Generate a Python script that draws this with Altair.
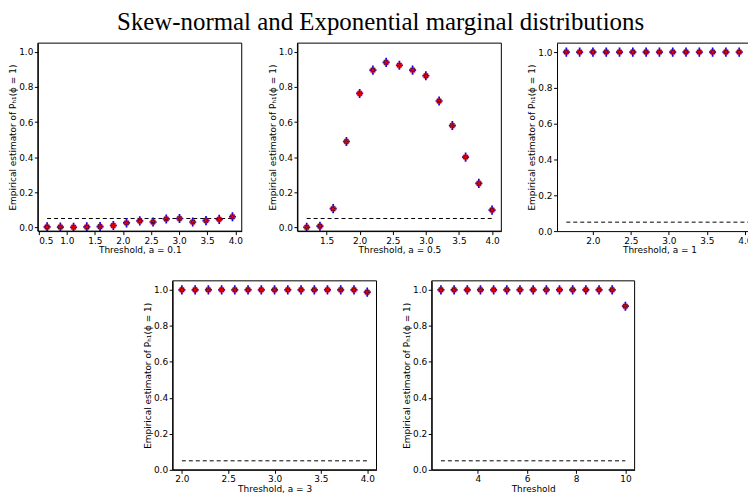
import altair as alt
import pandas as pd

# ---- data ----
x_a01 = [0.65, 0.886, 1.121, 1.357, 1.593, 1.829, 2.064, 2.3, 2.536, 2.771, 3.007, 3.243, 3.479, 3.714, 3.95]
y_a01 = [0.002, 0.001, 0.0, 0.002, 0.004, 0.01, 0.025, 0.036, 0.03, 0.047, 0.05, 0.03, 0.038, 0.045, 0.06]

x_a05 = [1.2, 1.4, 1.6, 1.8, 2.0, 2.2, 2.4, 2.6, 2.8, 3.0, 3.2, 3.4, 3.6, 3.8, 4.0]
y_a05 = [0.0, 0.006, 0.106, 0.489, 0.763, 0.896, 0.94, 0.924, 0.896, 0.864, 0.72, 0.58, 0.40, 0.25, 0.098]

x_a1 = [1.65, 1.825, 2.0, 2.175, 2.35, 2.525, 2.7, 2.875, 3.05, 3.225, 3.4, 3.575, 3.75, 3.925, 4.1]
y_a1 = [1.0] * 14 + [0.835]

x_a3 = [2.0, 2.143, 2.286, 2.429, 2.571, 2.714, 2.857, 3.0, 3.143, 3.286, 3.429, 3.571, 3.714, 3.857, 4.0]
y_a3 = [1.0] * 14 + [0.987]

x_exp = [2.5, 3.036, 3.571, 4.107, 4.643, 5.179, 5.714, 6.25, 6.786, 7.321, 7.857, 8.393, 8.929, 9.464, 10.0]
y_exp = [1.0] * 14 + [0.909]

level = 0.05
y_ticks = [0.0, 0.2, 0.4, 0.6, 0.8, 1.0]
y_title = "Empirical estimator of P\u2095\u2081(\u03d5 = 1)"
main_title = "Skew-normal and Exponential marginal distributions"

plus_path = "M-1,0L1,0M0,-1.3L0,1.3"
x_path = "M-0.8,-0.8L0.8,0.8M-0.8,0.8L0.8,-0.8"


def panel(xs, ys, xdom, ydom, xticks, xfmt, xtitle, w, h, cut=False, title_x=None):
    df = pd.DataFrame({"x": xs, "y": ys})
    axis_kw = dict(values=xticks, format=xfmt, title=xtitle)
    if title_x is not None:
        axis_kw.update(titleX=title_x)
    xenc = alt.X("x:Q", scale=alt.Scale(domain=xdom, nice=False, zero=False),
                 axis=alt.Axis(**axis_kw))
    yenc = alt.Y("y:Q", scale=alt.Scale(domain=ydom, nice=False, zero=False),
                 axis=alt.Axis(values=y_ticks, format=".1f", title=y_title))
    base = alt.Chart(df)
    blue = base.mark_point(shape=plus_path, filled=False, color="blue", size=50,
                           strokeWidth=1.7, opacity=1, clip=cut).encode(x=xenc, y=yenc)
    red = base.mark_point(shape="circle", filled=True, color="red", opacity=0.45,
                          size=45, clip=cut).encode(x=xenc, y=yenc)
    black = base.mark_point(shape=x_path, filled=False, color="black", size=24,
                            strokeWidth=1.5, opacity=1, clip=cut).encode(x=xenc, y=yenc)
    redx = base.mark_point(shape=x_path, filled=False, color="red", size=16,
                           strokeWidth=1.1, opacity=1, clip=cut).encode(x=xenc, y=yenc)
    rdf = pd.DataFrame({"x": [xs[0]], "x2": [xs[-1]], "y": [level]})
    rule = alt.Chart(rdf).mark_rule(strokeDash=[4, 3], color="black", strokeWidth=1,
                                    clip=cut).encode(x=xenc, x2="x2:Q", y=yenc)
    fdf = pd.DataFrame({"f": [0]})
    if cut:
        frame = alt.Chart(fdf).mark_rule(color="black", strokeWidth=1).encode(
            x=alt.value(0), x2=alt.value(w), y=alt.value(0))
    else:
        frame = alt.Chart(fdf).mark_rect(fillOpacity=0, stroke="black", strokeWidth=1).encode(
            x=alt.value(0), x2=alt.value(w), y=alt.value(0), y2=alt.value(h))
    return alt.layer(rule, blue, red, black, redx, frame).properties(width=w, height=h)


p1 = panel(x_a01, y_a01, [0.485, 4.115], [-0.022, 1.05], [0.5, 1.0, 1.5, 2.0, 2.5, 3.0, 3.5, 4.0],
           ".1f", "Threshold, a = 0.1", 205, 189)
p2 = panel(x_a05, y_a05, [1.06, 4.14], [-0.022, 1.05], [1.5, 2.0, 2.5, 3.0, 3.5, 4.0],
           ".1f", "Threshold, a = 0.5", 205, 189)
p3 = panel(x_a1, y_a1, [1.5275, 4.093], [0.0, 1.05], [2.0, 2.5, 3.0, 3.5, 4.0],
           ".1f", "Threshold, a = 1", 196, 189, cut=True, title_x=103)
p4 = panel(x_a3, y_a3, [1.9, 4.1], [0.0, 1.05], [2.0, 2.5, 3.0, 3.5, 4.0],
           ".1f", "Threshold, a = 3", 205, 190)
p5 = panel(x_exp, y_exp, [2.125, 10.375], [0.0, 1.05], [4, 6, 8, 10],
           "d", "Threshold", 204, 190)

spacer = alt.Chart(pd.DataFrame({"s": [0]})).mark_point(opacity=0).encode(
    x=alt.value(30), y=alt.value(5)).properties(width=81, height=10)

top = alt.hconcat(p1, p2, p3, spacing=25)
bottom = alt.hconcat(spacer, p4, p5, spacing=24.5)

chart = alt.vconcat(top, bottom, spacing=25).properties(
    title=alt.TitleParams(main_title, font="Liberation Serif", fontSize=25,
                          fontWeight="normal", anchor="middle", offset=8, color="black"),
    padding={"left": 0, "top": 0, "right": -5, "bottom": 0},
).configure_view(stroke=None).configure_axis(
    grid=False, domainColor="black", tickColor="black", labelColor="black",
    titleColor="black", labelFont="DejaVu Sans", titleFont="DejaVu Sans",
    labelFontSize=9, titleFontSize=9, titleFontWeight="normal", tickSize=3.5,
    labelPadding=1.5, titlePadding=1,
)

chart.save("out.html", embed_options={"renderer": "svg", "actions": False})
